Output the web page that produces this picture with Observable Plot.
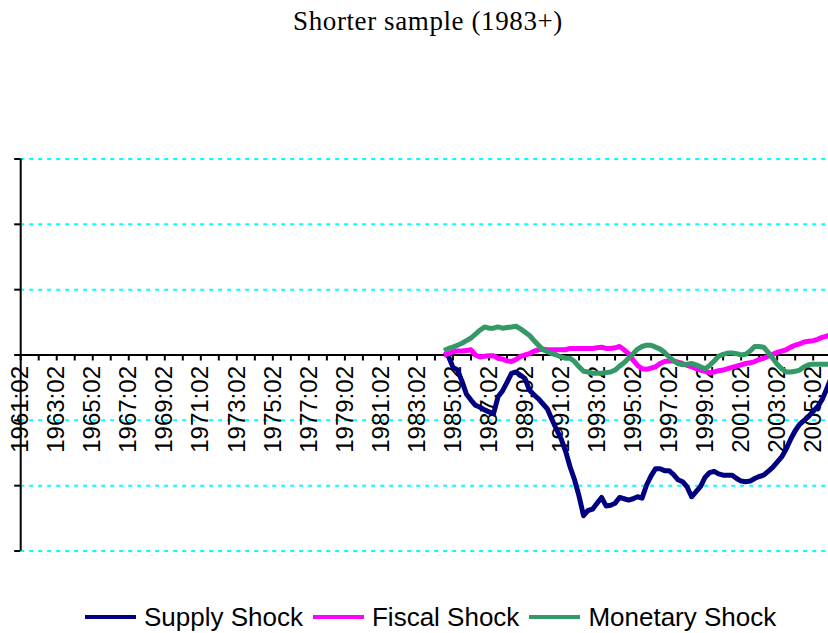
<!DOCTYPE html>
<html><head><meta charset="utf-8">
<script src="https://cdn.jsdelivr.net/npm/d3@7"></script>
<script src="https://cdn.jsdelivr.net/npm/@observablehq/plot@0.6"></script>
<style>
html,body{margin:0;padding:0;background:#fff;overflow:hidden;}
#wrap{position:relative;width:828px;height:633px;overflow:hidden;background:#fff;}
#title{position:absolute;left:28px;right:0;top:8px;text-align:center;font-family:"Liberation Serif","Times New Roman",serif;font-size:27px;line-height:27px;letter-spacing:0.6px;color:#000;white-space:nowrap;}
#chart{position:absolute;left:0;top:50px;width:828px;height:540px;overflow:hidden;}
#chart svg{overflow:hidden;}
#legend{position:absolute;left:85px;top:602px;display:flex;align-items:center;font-family:"Liberation Sans",Arial,sans-serif;font-size:26px;line-height:30px;color:#000;white-space:nowrap;}
.item{display:flex;align-items:center;margin-right:10px;}
.sw{width:51px;height:4px;margin-right:8px;}
</style>
</head><body>
<div id="wrap">
  <div id="title">Shorter sample (1983+)</div>
  <div id="chart"></div>
  <div id="legend"></div>
</div>
<script>
// ---- data (quarterly, first observation 1984:04) ----
const startYear = 1984, startQuarter = 4;
const seriesNames = ["Supply Shock", "Fiscal Shock", "Monetary Shock"];
const seriesColors = ["#000080", "#FF00FF", "#339966"];
const supply = [0.03, -0.02, -0.19, -0.23, -0.40, -0.60, -0.69, -0.77, -0.80, -0.84,
 -0.87, -0.90, -0.64, -0.55, -0.42, -0.28, -0.26, -0.31, -0.36, -0.54,
 -0.61, -0.67, -0.75, -0.83, -0.99, -1.14, -1.28, -1.47, -1.71, -1.91,
 -2.16, -2.46, -2.38, -2.36, -2.27, -2.18, -2.31, -2.30, -2.27, -2.18,
 -2.20, -2.22, -2.20, -2.17, -2.19, -1.99, -1.85, -1.74, -1.74, -1.77,
 -1.77, -1.83, -1.91, -1.94, -2.02, -2.17, -2.09, -2.01, -1.87, -1.80,
 -1.78, -1.82, -1.84, -1.84, -1.84, -1.89, -1.93, -1.94, -1.93, -1.89,
 -1.86, -1.84, -1.78, -1.72, -1.64, -1.56, -1.44, -1.29, -1.16, -1.06,
 -1.00, -0.94, -0.86, -0.79, -0.68, -0.52, -0.35];
const fiscal = [0.00, 0.02, 0.05, 0.06, 0.06, 0.07, 0.08, 0.00, -0.03, -0.02,
 -0.01, -0.01, -0.05, -0.06, -0.09, -0.10, -0.07, -0.02, 0.00, 0.02,
 0.06, 0.08, 0.09, 0.08, 0.08, 0.08, 0.08, 0.08, 0.10, 0.10,
 0.10, 0.10, 0.10, 0.10, 0.11, 0.12, 0.10, 0.10, 0.11, 0.13,
 0.08, 0.02, -0.08, -0.16, -0.21, -0.22, -0.20, -0.18, -0.13, -0.10,
 -0.09, -0.09, -0.11, -0.13, -0.16, -0.18, -0.21, -0.23, -0.25, -0.27,
 -0.26, -0.24, -0.23, -0.21, -0.19, -0.17, -0.15, -0.13, -0.12, -0.10,
 -0.07, -0.05, -0.02, 0.01, 0.04, 0.06, 0.08, 0.12, 0.15, 0.17,
 0.20, 0.21, 0.22, 0.24, 0.27, 0.29, 0.31];
const monetary = [0.07, 0.10, 0.12, 0.15, 0.18, 0.22, 0.26, 0.32, 0.38, 0.43,
 0.41, 0.41, 0.43, 0.41, 0.42, 0.43, 0.44, 0.40, 0.35, 0.30,
 0.22, 0.15, 0.08, 0.05, 0.02, 0.00, -0.03, -0.05, -0.05, -0.10,
 -0.18, -0.25, -0.26, -0.28, -0.28, -0.28, -0.27, -0.26, -0.23, -0.17,
 -0.12, -0.05, 0.02, 0.09, 0.13, 0.15, 0.15, 0.12, 0.09, 0.04,
 -0.03, -0.09, -0.13, -0.15, -0.14, -0.13, -0.15, -0.18, -0.21, -0.16,
 -0.09, -0.02, 0.01, 0.03, 0.03, 0.02, 0.00, 0.01, 0.06, 0.13,
 0.13, 0.12, 0.04, -0.05, -0.14, -0.21, -0.26, -0.26, -0.25, -0.23,
 -0.18, -0.15, -0.14, -0.14, -0.14, -0.14, -0.14];
const yTicks = [-3, -2, -1, 0, 1, 2, 3];
const xTickLabels = ["1961:02","1963:02","1965:02","1967:02","1969:02","1971:02","1973:02",
 "1975:02","1977:02","1979:02","1981:02","1983:02","1985:02","1987:02","1989:02","1991:02",
 "1993:02","1995:02","1997:02","1999:02","2001:02","2003:02","2005:02"];
const xDomain = [1961.25, 2006.1];

// ---- helpers ----
const labelToT = s => { const [y, q] = s.split(":").map(Number); return y + (q - 1) / 4; };
const tOf = i => startYear + (startQuarter - 1) / 4 + i / 4;
const rows = [];
[supply, fiscal, monetary].forEach((arr, s) => arr.forEach((v, i) => rows.push({series: seriesNames[s], t: tOf(i), v})));
const yearTicks = d3.range(labelToT(xTickLabels[0]), xDomain[1], 1);
const labelRows = xTickLabels.map(l => ({t: labelToT(l), label: l}));
const x0 = xDomain[0];

const plot = Plot.plot({
  width: 828, height: 540,
  marginLeft: 20.2, marginRight: 0, marginTop: 108.5, marginBottom: 39.5,
  x: {domain: xDomain, axis: null},
  y: {domain: [-3, 3], axis: null},
  style: {background: "#fff"},
  marks: [
    Plot.ruleY(yTicks.filter(d => d !== 0), {stroke: "#00FFFF", strokeWidth: 2, strokeDasharray: "4,5"}),
    Plot.text(labelRows, {x: "t", y: 0, text: "label", rotate: -90, textAnchor: "end", lineAnchor: "middle",
      dy: 11, fontSize: 24, fontFamily: "Liberation Sans, Arial, sans-serif", fill: "#000"}),
    Plot.ruleX(yearTicks, {x: d => d, y1: 0, y2: 0, insetBottom: -6, stroke: "#000", strokeWidth: 2}),
    Plot.ruleY(yTicks, {y: d => d, x1: x0, x2: x0, insetLeft: -6, stroke: "#000", strokeWidth: 2}),
    Plot.ruleY([0], {stroke: "#000", strokeWidth: 2}),
    Plot.ruleX([x0], {y1: -3, y2: 3, stroke: "#000", strokeWidth: 2}),
    ...seriesNames.map((name, s) => Plot.line(rows.filter(r => r.series === name),
      {x: "t", y: "v", stroke: seriesColors[s], strokeWidth: 5, strokeLinejoin: "round", strokeLinecap: "butt"}))
  ]
});
document.getElementById("chart").appendChild(plot);

const legend = document.getElementById("legend");
seriesNames.forEach((name, s) => {
  const it = document.createElement("div"); it.className = "item";
  const sw = document.createElement("div"); sw.className = "sw"; sw.style.background = seriesColors[s];
  const tx = document.createElement("span"); tx.textContent = name;
  it.appendChild(sw); it.appendChild(tx); legend.appendChild(it);
});
</script>
</body></html>
